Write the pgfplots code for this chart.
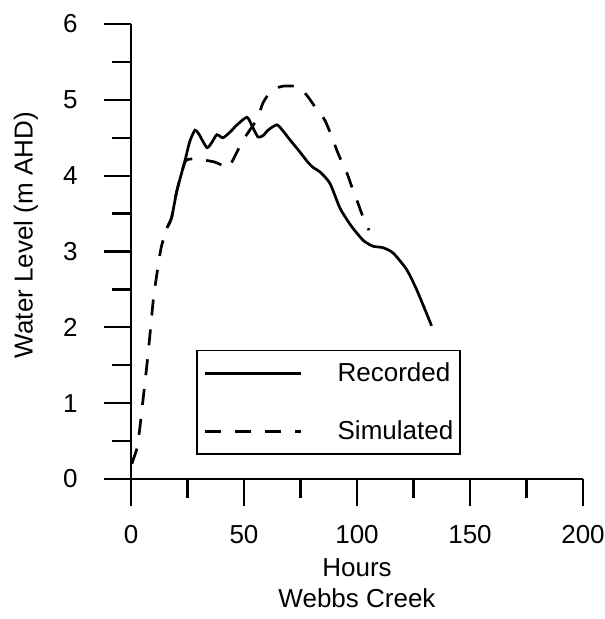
\documentclass[border=0pt]{standalone}
\usepackage{pgfplots}
\pgfplotsset{compat=1.18}
\usepackage{fontspec}
\setmainfont{Liberation Sans}

% recorded water level, Webbs Creek
\pgfplotstableread{
h     wl
15.9  3.31
18.0  3.45
20.3  3.80
23.9  4.20
26.0  4.45
28.3  4.60
30.0  4.55
33.6  4.37
36.0  4.45
38.0  4.54
40.7  4.50
44.0  4.58
46.9  4.67
51.3  4.77
53.5  4.66
56.2  4.51
58.5  4.53
60.6  4.60
64.6  4.67
67.5  4.58
70.4  4.47
74.8  4.31
77.9  4.19
80.5  4.11
83.6  4.05
88.0  3.90
92.5  3.57
96.9  3.36
100.0 3.24
103.0 3.14
107.0 3.07
111.5 3.05
116.0 2.98
122.0 2.76
126.5 2.49
133.0 2.02
}\recorded

% simulated water level
\pgfplotstableread{
h     wl
0.4   0.20
1.5   0.30
2.6   0.40
3.7   0.62
5.3   1.04
7.2   1.55
8.7   2.00
10.0  2.40
11.5  2.71
13.0  3.00
14.2  3.15
15.9  3.31
18.0  3.45
20.3  3.80
23.9  4.18
27.0  4.22
31.4  4.21
37.0  4.18
40.0  4.14
42.9  4.10
45.0  4.20
47.5  4.35
49.6  4.47
53.0  4.62
56.2  4.77
58.4  4.96
62.4  5.13
67.3  5.18
72.0  5.18
74.8  5.16
78.3  5.04
82.3  4.87
85.8  4.73
88.9  4.51
91.0  4.34
93.4  4.17
95.6  4.03
98.2  3.81
100.4 3.64
102.6 3.46
105.3 3.28
}\simulated

\begin{document}
\begin{tikzpicture}[font=\fontsize{13}{15.5}\selectfont]
\begin{axis}[
  scale only axis,
  width=226pt, height=227.5pt,
  xmin=0, xmax=200, ymin=0, ymax=6,
  axis x line=bottom, axis y line=left,
  axis line style={-, line width=1.1pt},
  xtick={0,50,...,200}, ytick={0,1,...,6},
  minor x tick num=1, minor y tick num=1,
  tick align=outside,
  major tick length=13.5pt, minor tick length=9.5pt,
  every tick/.style={black, line width=1.1pt},
  /pgf/number format/assume math mode=true,
  every tick label/.append style={font=\fontsize{13}{15.5}\selectfont},
  xticklabel style={anchor=north, inner sep=0pt, yshift=-9.5pt},
  yticklabel style={anchor=east, inner sep=0pt, xshift=-13pt},
  xlabel={Hours\\Webbs Creek},
  xlabel style={align=center, at={(axis description cs:0.5,0)}, anchor=north,
    inner sep=0pt, yshift=-39.5pt},
  ylabel={Water Level (m AHD)},
  ylabel style={at={(axis description cs:0,0.536)}, anchor=center,
    inner sep=0pt, yshift=52.5pt},
  legend cell align=left,
  legend style={at={(axis cs:28.8,0.317)}, anchor=south west,
    draw=black, line width=0.85pt, fill=white,
    inner xsep=3.5pt, inner ysep=6pt,
    column sep=17.5pt, row sep=18pt,
    nodes={inner sep=0pt},
    font=\fontsize{13}{15.5}\selectfont},
  legend image code/.code={\draw[#1] (0pt,0pt) -- (48pt,0pt);},
]
\coordinate (ll) at (rel axis cs:0,0);
\coordinate (ur) at (rel axis cs:1,1);
\addplot[black, line width=1.35pt, smooth, tension=0.4] table[x=h, y=wl] {\recorded};
\addlegendentry{Recorded}
\addplot[black, line width=1.35pt, dash pattern=on 8pt off 7pt, smooth, tension=0.4] table[x=h, y=wl] {\simulated};
\addlegendentry{Simulated}
\end{axis}
\pgfresetboundingbox
\path[use as bounding box] ([xshift=-65.5pt,yshift=-70pt]ll) rectangle ([xshift=10.5pt,yshift=12pt]ur);
\end{tikzpicture}
\end{document}
